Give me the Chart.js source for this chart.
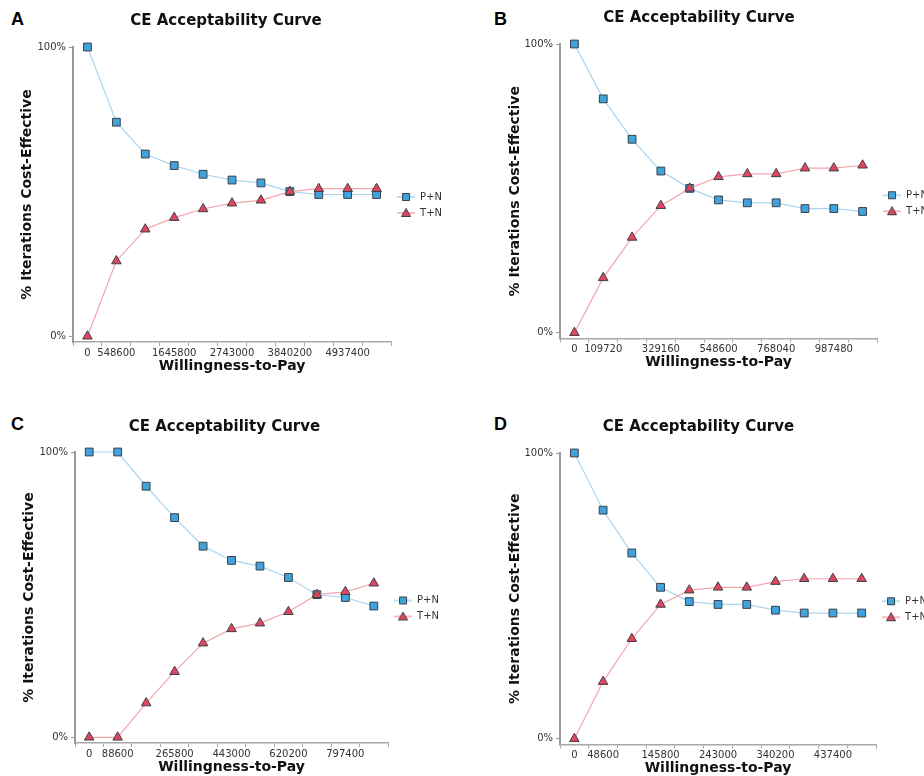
<!DOCTYPE html>
<html>
<head>
<meta charset="utf-8">
<script src="https://cdn.jsdelivr.net/npm/chart.js@4"></script>
<style>
    html, body { margin: 0; padding: 0; background: #fff; overflow: hidden; }
    body { width: 924px; height: 776px; position: relative; }
    canvas { position: absolute; }
    .tag { position: absolute; font: bold 18px "Liberation Sans", Arial, sans-serif; line-height: 1; color: #000; }
</style>
</head>
<body>
<div class="tag" style="left:11px;top:10px">A</div>
<div class="tag" style="left:494px;top:10px">B</div>
<div class="tag" style="left:11px;top:415px">C</div>
<div class="tag" style="left:494px;top:415px">D</div>

<canvas id="chart-a" width="460" height="390" style="left:0;top:0"></canvas>
<canvas id="chart-b" width="514" height="390" style="left:460px;top:0"></canvas>
<canvas id="chart-c" width="460" height="390" style="left:0;top:406px"></canvas>
<canvas id="chart-d" width="514" height="390" style="left:460px;top:406px"></canvas>

<script>
// values (% of iterations cost-effective)
const seriesNames = ['P+N', 'T+N'];
const yTicks = [0, 100];

const wtpA = [0, 548600, 1097200, 1645800, 2194400, 2743000, 3291600, 3840200, 4388800, 4937400, 5486000];
const tickLabelsA = ['0', '548600', '', '1645800', '', '2743000', '', '3840200', '', '4937400', ''];
const pnA = [100, 74, 63, 59, 56, 54, 53, 50, 49, 49, 49];
const tnA = [0, 26, 37, 41, 44, 46, 47, 50, 51, 51, 51];

const wtpB = [0, 109720, 219440, 329160, 438880, 548600, 658320, 768040, 877760, 987480, 1097200];
const tickLabelsB = ['0', '109720', '', '329160', '', '548600', '', '768040', '', '987480', ''];
const pnB = [100, 81, 67, 56, 50, 46, 45, 45, 43, 43, 42];
const tnB = [0, 19, 33, 44, 50, 54, 55, 55, 57, 57, 58];

const wtpC = [0, 88600, 177200, 265800, 354400, 443000, 531600, 620200, 708800, 797400, 886000];
const tickLabelsC = ['0', '88600', '', '265800', '', '443000', '', '620200', '', '797400', ''];
const pnC = [100, 100, 88, 77, 67, 62, 60, 56, 50, 49, 46];
const tnC = [0, 0, 12, 23, 33, 38, 40, 44, 50, 51, 54];

const wtpD = [0, 48600, 97200, 145800, 194400, 243000, 291600, 340200, 388800, 437400, 486000];
const tickLabelsD = ['0', '48600', '', '145800', '', '243000', '', '340200', '', '437400', ''];
const pnD = [100, 80, 65, 53, 48, 47, 47, 45, 44, 44, 44];
const tnD = [0, 20, 35, 47, 52, 53, 53, 55, 56, 56, 56];

const BLUE_LINE = '#a9d6f0';
const BLUE_FILL = '#3fa3dd';
const RED_LINE = '#f5a4ae';
const RED_FILL = '#e2465e';
const MARK_EDGE = '#3a3f47';

Chart.defaults.font.family = '"DejaVu Sans", Verdana, sans-serif';

// little line-plus-marker picture for the legend
function legendIcon(lineColor, fill, shape) {
    const c = document.createElement('canvas');
    c.width = 18;
    c.height = 10;
    const g = c.getContext('2d');
    g.strokeStyle = lineColor;
    g.lineWidth = 1.5;
    g.beginPath();
    g.moveTo(0, 5);
    g.lineTo(18, 5);
    g.stroke();
    g.fillStyle = fill;
    g.strokeStyle = MARK_EDGE;
    g.lineWidth = 1;
    g.beginPath();
    if (shape === 'rect') {
        g.rect(5.5, 1.5, 7, 7);
    } else {
        g.moveTo(9, 0.5);
        g.lineTo(13.5, 8.5);
        g.lineTo(4.5, 8.5);
        g.closePath();
    }
    g.fill();
    g.stroke();
    return c;
}

const icons = [legendIcon(BLUE_LINE, BLUE_FILL, 'rect'), legendIcon(RED_LINE, RED_FILL, 'triangle')];

function makeChart(id, categories, tickLabels, pn, tn, box) {
    const ctx = document.getElementById(id);
    return new Chart(ctx, {
        type: 'line',
        data: {
            labels: categories,
            datasets: [
                {
                    label: seriesNames[0],
                    data: pn,
                    borderColor: BLUE_LINE,
                    borderWidth: 1.2,
                    tension: 0,
                    pointStyle: 'rect',
                    pointRadius: 5.5,
                    pointBackgroundColor: BLUE_FILL,
                    pointBorderColor: MARK_EDGE,
                    pointBorderWidth: 1,
                    clip: false,
                    order: 1,
                },
                {
                    label: seriesNames[1],
                    data: tn,
                    borderColor: RED_LINE,
                    borderWidth: 1.2,
                    tension: 0,
                    pointStyle: 'triangle',
                    pointRadius: 5.5,
                    pointBackgroundColor: RED_FILL,
                    pointBorderColor: MARK_EDGE,
                    pointBorderWidth: 1,
                    clip: false,
                    order: 0,
                },
            ]
        },
        options: {
            responsive: false,
            animation: false,
            events: [],
            layout: {
                padding: { left: 0, top: 0, right: box.padRight, bottom: box.padBottom }
            },
            scales: {
                x: {
                    type: 'category',
                    offset: true,
                    grid: {
                        offset: true,
                        drawOnChartArea: false,
                        tickLength: 4,
                        color: '#a8a8a8',
                    },
                    border: { color: '#a8a8a8', width: 1.5 },
                    ticks: {
                        autoSkip: false,
                        maxRotation: 0,
                        minRotation: 0,
                        padding: 1,
                        color: '#333',
                        font: { size: 10 },
                        callback: (value, index) => tickLabels[index],
                    },
                    title: {
                        display: true,
                        text: 'Willingness-to-Pay',
                        color: '#111',
                        font: { size: 14, weight: 'bold' },
                        padding: { top: 0, bottom: 3.5 },
                    },
                    afterFit: (scale) => { scale.height = 36; },
                },
                y: {
                    min: -2,
                    max: 100,
                    grid: {
                        drawOnChartArea: false,
                        tickLength: 4,
                        color: '#999',
                    },
                    border: { color: '#999', width: 2 },
                    ticks: {
                        color: '#333',
                        padding: 3,
                        font: { size: 10 },
                        callback: (v) => v + '%',
                    },
                    afterBuildTicks: (scale) => {
                        scale.ticks = yTicks.map(v => ({ value: v }));
                    },
                    title: {
                        display: true,
                        text: '% Iterations Cost-Effective',
                        color: '#111',
                        font: { size: 14, weight: 'bold' },
                        padding: { top: box.yTitlePad, bottom: 0 },
                    },
                    afterFit: (scale) => { scale.width = box.yAxisWidth; },
                }
            },
            plugins: {
                title: {
                    display: true,
                    text: 'CE Acceptability Curve',
                    color: '#111',
                    font: { size: 15, weight: 'bold' },
                    padding: { top: box.titleTop, bottom: box.titleBottom },
                },
                legend: {
                    position: 'right',
                    // empty title only pushes the two entries a bit below centre
                    title: { display: true, text: '', padding: 10, font: { size: 10 } },
                    labels: {
                        usePointStyle: true,
                        pointStyleWidth: 18,
                        boxHeight: 10,
                        padding: 6,
                        color: '#333',
                        font: { size: 10 },
                        sort: (a, b) => a.datasetIndex - b.datasetIndex,
                        generateLabels: (chart) => {
                            const items = Chart.defaults.plugins.legend.labels.generateLabels(chart);
                            items.forEach(item => { item.pointStyle = icons[item.datasetIndex]; });
                            return items;
                        }
                    }
                },
                tooltip: { enabled: false },
            }
        }
    });
}

makeChart('chart-a', wtpA, tickLabelsA, pnA, tnA,
    { titleTop: 12, titleBottom: 17, yAxisWidth: 73, yTitlePad: 19, padRight: 8, padBottom: 12 });
makeChart('chart-b', wtpB, tickLabelsB, pnB, tnB,
    { titleTop: 9.5, titleBottom: 16.5, yAxisWidth: 100, yTitlePad: 46.5, padRight: 36, padBottom: 15.5 });
makeChart('chart-c', wtpC, tickLabelsC, pnC, tnC,
    { titleTop: 12, titleBottom: 16, yAxisWidth: 75, yTitlePad: 20.5, padRight: 11, padBottom: 17 });
makeChart('chart-d', wtpD, tickLabelsD, pnD, tnD,
    { titleTop: 12, titleBottom: 17, yAxisWidth: 100, yTitlePad: 46.5, padRight: 37, padBottom: 15.5 });
</script>
</body>
</html>
